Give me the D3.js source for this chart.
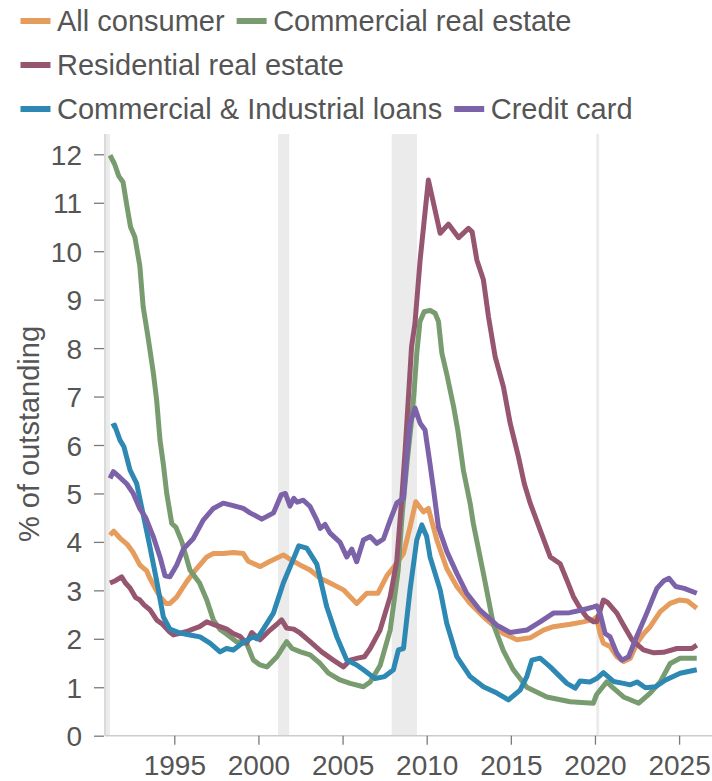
<!DOCTYPE html>
<html><head><meta charset="utf-8">
<script src="https://cdn.jsdelivr.net/npm/d3@7"></script>
<style>
html,body{margin:0;padding:0;background:#fff;}
svg{display:block;font-family:"Liberation Sans",Arial,Helvetica,sans-serif;}
</style>
</head><body>
<svg id="chart" width="712" height="781"></svg>
<script>
// ---------------- DATA ----------------
const seriesNames = ["All consumer", "Commercial real estate", "Residential real estate", "Commercial & Industrial loans", "Credit card"];
const seriesColors = ["#E69C5C", "#789C6F", "#97566F", "#2D88B3", "#7C62A8"];

// [year, % of outstanding]
const allConsumer = [[1991.18,4.14],[1991.4,4.22],[1991.77,4.08],[1992.2,3.95],[1992.56,3.78],[1992.96,3.52],[1993.36,3.4],[1993.55,3.25],[1993.85,3.05],[1994.15,2.87],[1994.5,2.73],[1994.74,2.73],[1995.14,2.86],[1995.74,3.18],[1996.33,3.45],[1996.93,3.69],[1997.32,3.76],[1997.91,3.76],[1998.51,3.78],[1999.1,3.76],[1999.4,3.6],[2000.1,3.49],[2000.69,3.6],[2001.48,3.73],[2002.08,3.6],[2002.5,3.52],[2003.07,3.42],[2003.67,3.25],[2004.26,3.15],[2005.05,3.01],[2005.84,2.73],[2006.44,2.94],[2007.1,2.94],[2007.63,3.3],[2008.22,3.56],[2008.62,3.76],[2009.01,4.31],[2009.35,4.83],[2009.8,4.62],[2010.1,4.69],[2010.6,4.04],[2011.19,3.45],[2011.79,3.08],[2012.58,2.73],[2013.57,2.39],[2014.56,2.11],[2015.36,1.98],[2016.15,2.02],[2016.94,2.18],[2017.53,2.25],[2018.53,2.3],[2019.3,2.35],[2019.92,2.4],[2020.1,2.45],[2020.3,2.11],[2020.5,1.91],[2020.9,1.84],[2021.3,1.63],[2021.7,1.53],[2022.1,1.6],[2022.5,1.91],[2022.88,2.1],[2023.28,2.25],[2023.88,2.56],[2024.47,2.73],[2025.0,2.8],[2025.5,2.78],[2026.05,2.63]];

const commercialRealEstate = [[1991.18,11.98],[1991.45,11.8],[1991.7,11.55],[1991.95,11.43],[1992.2,10.9],[1992.4,10.5],[1992.65,10.3],[1992.95,9.7],[1993.15,8.85],[1993.45,8.2],[1993.75,7.5],[1993.95,6.93],[1994.15,6.1],[1994.35,5.6],[1994.55,5.0],[1994.85,4.38],[1995.1,4.3],[1995.45,4.0],[1995.93,3.42],[1996.5,3.15],[1996.93,2.8],[1997.32,2.39],[1997.7,2.2],[1998.1,2.1],[1998.7,1.94],[1999.3,1.9],[1999.7,1.56],[2000.1,1.46],[2000.5,1.42],[2001.1,1.63],[2001.5,1.85],[2001.68,1.94],[2002.0,1.8],[2002.5,1.73],[2003.07,1.67],[2003.67,1.49],[2004.16,1.29],[2004.85,1.15],[2005.45,1.08],[2006.24,1.01],[2006.64,1.11],[2007.23,1.45],[2007.83,2.18],[2008.3,3.4],[2008.55,4.6],[2008.85,5.7],[2009.1,6.5],[2009.25,7.1],[2009.41,7.89],[2009.6,8.55],[2009.85,8.75],[2010.2,8.78],[2010.5,8.72],[2010.7,8.55],[2010.9,7.9],[2011.2,7.45],[2011.6,6.79],[2011.85,6.3],[2012.18,5.48],[2012.58,4.8],[2012.77,4.38],[2013.37,3.35],[2013.96,2.3],[2014.56,1.75],[2015.15,1.36],[2015.95,1.0],[2017.14,0.8],[2018.53,0.7],[2019.9,0.67],[2020.1,0.85],[2020.7,1.11],[2021.1,0.98],[2021.7,0.8],[2022.6,0.67],[2023.28,0.88],[2023.88,1.11],[2024.47,1.49],[2025.06,1.6],[2026.05,1.6]];

const residentialRealEstate = [[1991.18,3.15],[1991.5,3.2],[1991.87,3.28],[1992.1,3.15],[1992.37,3.05],[1992.7,2.85],[1992.96,2.8],[1993.2,2.7],[1993.55,2.6],[1993.95,2.39],[1994.3,2.3],[1994.7,2.15],[1994.94,2.08],[1995.4,2.12],[1995.74,2.15],[1996.1,2.2],[1996.5,2.25],[1996.93,2.35],[1997.3,2.3],[1997.72,2.25],[1998.12,2.2],[1998.5,2.11],[1998.9,2.05],[1999.3,1.91],[1999.6,2.13],[2000.1,1.98],[2000.69,2.18],[2001.1,2.3],[2001.38,2.39],[2001.68,2.22],[2002.1,2.2],[2002.47,2.12],[2003.07,1.94],[2003.76,1.73],[2004.45,1.56],[2005.05,1.42],[2005.45,1.56],[2005.9,1.6],[2006.3,1.63],[2006.64,1.8],[2007.23,2.18],[2007.83,2.87],[2008.22,3.6],[2008.52,4.9],[2008.72,5.9],[2009.1,8.03],[2009.3,8.5],[2009.61,9.82],[2010.1,11.47],[2010.8,10.37],[2011.29,10.56],[2011.9,10.28],[2012.48,10.47],[2012.7,10.4],[2012.98,9.82],[2013.37,9.41],[2013.67,8.65],[2014.07,7.82],[2014.56,7.2],[2014.96,6.45],[2015.45,5.76],[2015.8,5.2],[2016.15,4.8],[2016.74,4.25],[2017.34,3.69],[2017.93,3.55],[2018.33,3.21],[2018.72,2.87],[2019.12,2.63],[2019.5,2.45],[2019.92,2.35],[2020.1,2.35],[2020.5,2.8],[2020.75,2.75],[2021.3,2.53],[2021.7,2.28],[2022.2,1.98],[2022.88,1.77],[2023.5,1.71],[2024.07,1.72],[2024.87,1.8],[2025.76,1.8],[2026.05,1.87]];

const commercialIndustrial = [[1991.28,6.38],[1991.45,6.41],[1991.77,6.1],[1992.0,5.97],[1992.37,5.48],[1992.76,5.21],[1993.16,4.55],[1993.55,3.9],[1993.95,3.2],[1994.35,2.45],[1994.74,2.2],[1995.34,2.12],[1995.93,2.08],[1996.53,2.04],[1997.12,1.91],[1997.72,1.73],[1998.1,1.8],[1998.51,1.77],[1999.1,1.93],[1999.7,2.04],[1999.9,2.0],[2000.29,2.2],[2000.89,2.53],[2001.48,3.15],[2002.08,3.65],[2002.4,3.92],[2002.87,3.87],[2003.47,3.54],[2004.06,2.66],[2004.66,2.04],[2005.25,1.56],[2005.84,1.46],[2006.24,1.36],[2006.93,1.18],[2007.5,1.22],[2008.02,1.36],[2008.32,1.77],[2008.62,1.8],[2009.01,3.01],[2009.41,4.04],[2009.71,4.35],[2010.0,4.11],[2010.2,3.69],[2010.8,3.01],[2011.19,2.32],[2011.79,1.63],[2012.58,1.22],[2013.37,1.01],[2014.17,0.88],[2014.86,0.74],[2015.55,0.94],[2015.95,1.22],[2016.25,1.56],[2016.74,1.6],[2017.34,1.42],[2018.33,1.08],[2018.82,0.98],[2019.12,1.13],[2019.7,1.11],[2020.1,1.18],[2020.5,1.3],[2021.1,1.12],[2021.7,1.08],[2022.1,1.05],[2022.5,1.11],[2023.0,0.99],[2023.6,1.01],[2024.2,1.15],[2025.06,1.29],[2026.05,1.36]];

const creditCard = [[1991.18,5.31],[1991.38,5.45],[1991.77,5.33],[1992.17,5.2],[1992.56,5.0],[1992.96,4.68],[1993.3,4.5],[1993.75,4.11],[1994.15,3.69],[1994.45,3.3],[1994.74,3.28],[1995.14,3.52],[1995.54,3.85],[1996.13,4.07],[1996.72,4.45],[1997.32,4.69],[1997.91,4.8],[1998.5,4.75],[1999.1,4.69],[1999.5,4.6],[2000.2,4.47],[2000.9,4.6],[2001.35,4.97],[2001.6,5.0],[2001.88,4.74],[2002.1,4.9],[2002.3,4.82],[2002.67,4.86],[2003.07,4.73],[2003.47,4.45],[2003.67,4.28],[2003.96,4.36],[2004.26,4.18],[2004.85,3.99],[2005.25,3.69],[2005.55,3.85],[2005.84,3.59],[2006.24,4.04],[2006.64,4.11],[2007.03,3.97],[2007.43,4.06],[2007.83,4.45],[2008.22,4.8],[2008.62,4.9],[2008.8,5.69],[2009.01,6.45],[2009.31,6.76],[2009.61,6.45],[2009.9,6.31],[2010.2,5.6],[2010.4,5.1],[2010.7,4.3],[2011.2,3.8],[2011.79,3.35],[2012.38,2.94],[2013.17,2.59],[2014.17,2.28],[2014.96,2.13],[2015.95,2.18],[2016.74,2.35],[2017.53,2.53],[2018.5,2.54],[2019.3,2.6],[2019.92,2.66],[2020.1,2.68],[2020.3,2.53],[2020.6,2.11],[2020.9,2.04],[2021.3,1.7],[2021.6,1.56],[2022.0,1.63],[2022.4,1.98],[2023.08,2.53],[2023.68,3.04],[2024.1,3.2],[2024.4,3.25],[2024.8,3.08],[2025.3,3.04],[2026.05,2.94]];

const recessions = [[1990.5,1991.17],[2001.17,2001.83],[2007.92,2009.42],[2020.08,2020.25]];
const yTicks = [0,1,2,3,4,5,6,7,8,9,10,11,12];
const xTicks = [1995,2000,2005,2010,2015,2020,2025];
const yTitle = "% of outstanding";
const legendRows = [[0,1],[2],[3,4]];

// ---------------- CHART ----------------
const seriesData = [allConsumer, commercialRealEstate, residentialRealEstate, commercialIndustrial, creditCard];
const svg = d3.select("#chart");
const plotLeft = 105, plotRight = 712, plotTop = 134;

const x = d3.scaleLinear().domain([1995, 2025]).range([174.3, 679.1]);
const y = d3.scaleLinear().domain([0, 12]).range([735.7, 154.3]);
const plotBottom = y(0);

// recession bands
svg.append("g").selectAll("rect").data(recessions).join("rect")
  .attr("x", d => Math.max(plotLeft, x(d[0])))
  .attr("width", d => x(d[1]) - Math.max(plotLeft, x(d[0])))
  .attr("y", plotTop).attr("height", plotBottom - plotTop)
  .attr("fill", "#EBEBEB");

// axis lines
svg.append("line").attr("x1", plotLeft).attr("x2", plotLeft)
  .attr("y1", plotTop).attr("y2", plotBottom)
  .attr("stroke", "#DADADA").attr("stroke-width", 2);
svg.append("line").attr("x1", plotLeft).attr("x2", plotRight)
  .attr("y1", plotBottom).attr("y2", plotBottom)
  .attr("stroke", "#CCCCCC").attr("stroke-width", 1.5);

// y axis
const yAxis = svg.append("g").attr("transform", `translate(${plotLeft - 1},0)`)
  .call(d3.axisLeft(y).tickValues(yTicks).tickSize(10).tickPadding(12).tickFormat(d3.format("d")));
yAxis.select(".domain").remove();
yAxis.selectAll(".tick line").attr("stroke", "#7A7A7A").attr("stroke-width", 1.3);
yAxis.selectAll(".tick text").attr("fill", "#555").style("font-size", "28px")
  .attr("dy", "0.36em");

// x axis
const xAxis = svg.append("g").attr("transform", `translate(0,${plotBottom})`)
  .call(d3.axisBottom(x).tickValues(xTicks).tickSize(9).tickPadding(10).tickFormat(d3.format("d")));
xAxis.select(".domain").remove();
xAxis.selectAll(".tick line").attr("stroke", "#7A7A7A").attr("stroke-width", 1.3);
xAxis.selectAll(".tick text").attr("fill", "#555").style("font-size", "28px");

// y title
svg.append("text").attr("transform", "translate(39,434) rotate(-90)")
  .attr("text-anchor", "middle").attr("fill", "#555").style("font-size", "29px")
  .text(yTitle);

// lines
const line = d3.line().x(d => x(d[0])).y(d => y(d[1]));
svg.append("g").selectAll("path").data(seriesData).join("path")
  .attr("d", line)
  .attr("fill", "none")
  .attr("stroke", (d, i) => seriesColors[i])
  .attr("stroke-width", 5)
  .attr("stroke-linejoin", "round")
  .attr("stroke-linecap", "butt");

// legend
const legend = svg.append("g");
const rowBaselines = [31, 75, 119];
legendRows.forEach((row, ri) => {
  let cx = 20.5;
  row.forEach(si => {
    const bl = rowBaselines[ri];
    legend.append("line").attr("x1", cx).attr("x2", cx + 30)
      .attr("y1", bl - 10).attr("y2", bl - 10)
      .attr("stroke", seriesColors[si]).attr("stroke-width", 6);
    const t = legend.append("text").attr("x", cx + 36.5).attr("y", bl)
      .attr("fill", "#555").style("font-size", "29px").text(seriesNames[si]);
    cx = cx + 36.5 + t.node().getComputedTextLength() + 12;
  });
});
</script>
</body></html>
